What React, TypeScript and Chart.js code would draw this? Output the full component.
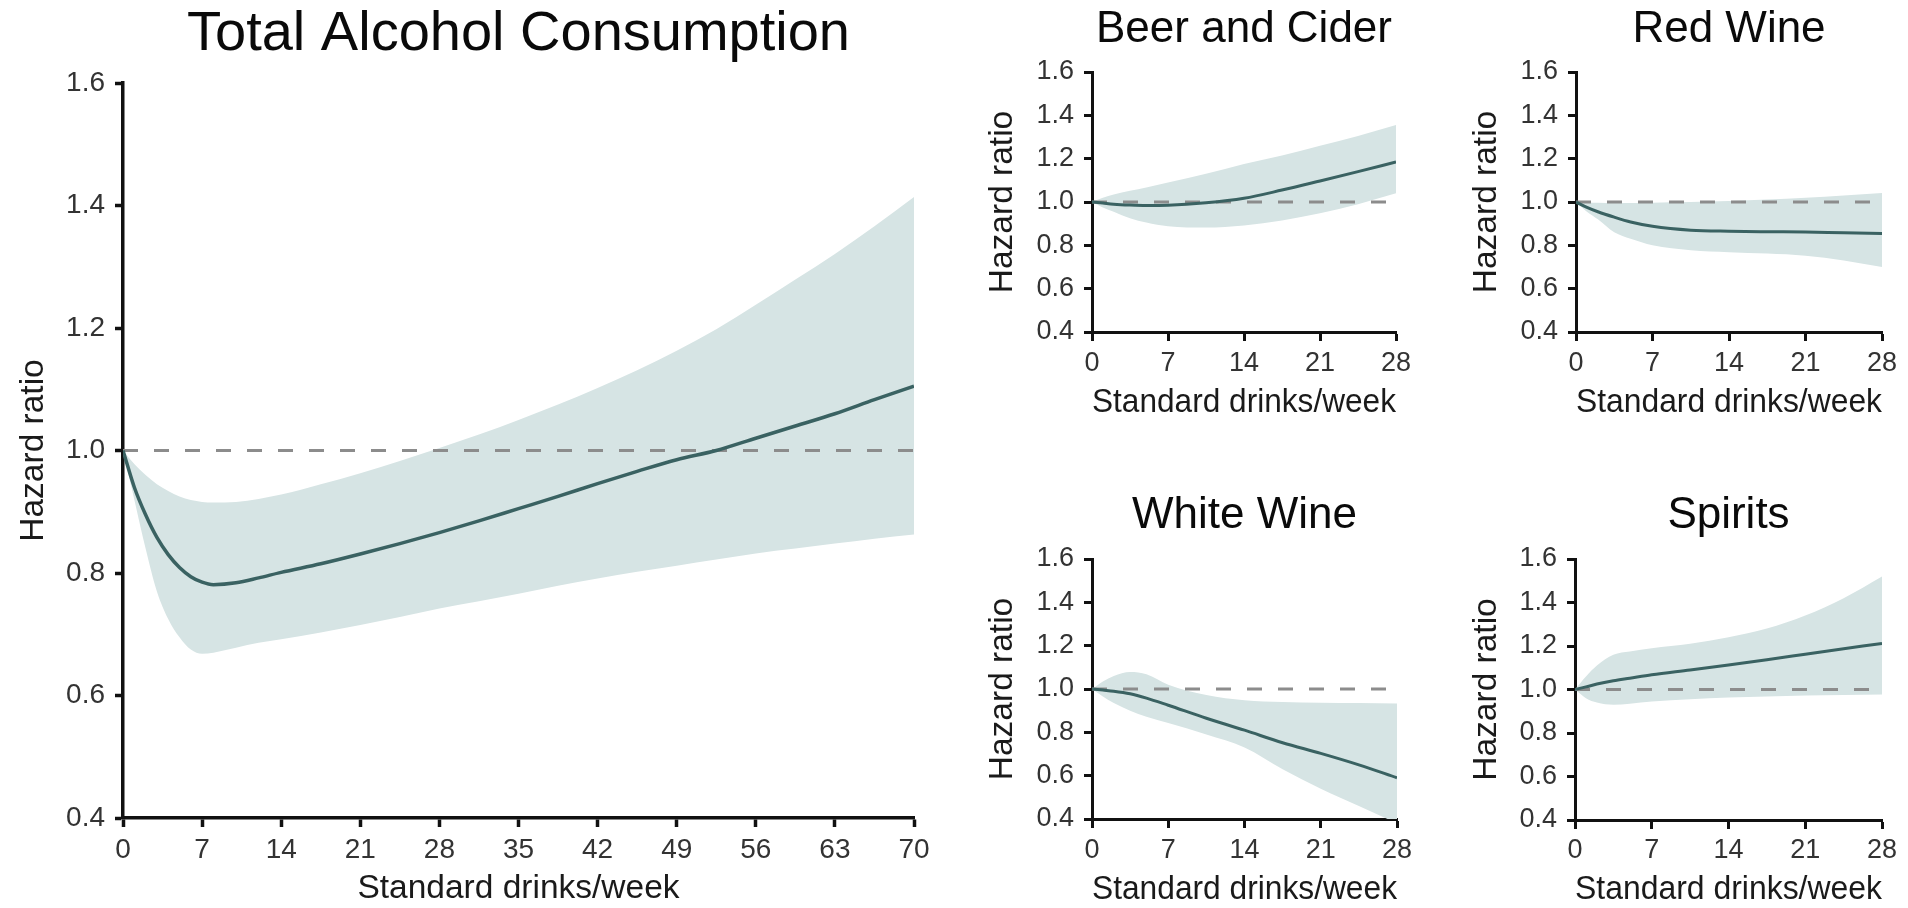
import React, { useEffect, useRef } from "react";
import { Chart, registerables } from "chart.js";

Chart.register(...registerables);

const FONT = "'Liberation Sans', Arial, Helvetica, sans-serif";
const LINE_COLOR = "rgb(58,98,98)";
const BAND_COLOR = "rgb(214,228,228)";
const DASH_COLOR = "rgb(140,140,140)";
const AXIS_COLOR = "#111111";

// ---------- shared ticks ----------
const hrTicks = [0.4, 0.6, 0.8, 1.0, 1.2, 1.4, 1.6];
const totalXTicks = [0, 7, 14, 21, 28, 35, 42, 49, 56, 63, 70];
const smallXTicks = [0, 7, 14, 21, 28];
const referenceHR = [1.0, 1.0];

// ---------- Total Alcohol Consumption ----------
const totalDrinks = [0, 1, 2, 3, 4, 5, 6, 7, 8, 10, 12, 14, 17.5, 21, 24.5, 28, 31.5, 35, 38.5, 42, 45.5, 49, 52.5, 56, 59.5, 63, 66.5, 70];
const totalHR = [1.0, 0.94, 0.895, 0.858, 0.83, 0.809, 0.794, 0.785, 0.781, 0.784, 0.792, 0.801, 0.815, 0.831, 0.848, 0.866, 0.885, 0.905, 0.925, 0.946, 0.966, 0.985, 1.0, 1.02, 1.04, 1.06, 1.083, 1.105];
const totalUpper = [1.0, 0.978, 0.96, 0.945, 0.934, 0.925, 0.919, 0.916, 0.915, 0.916, 0.921, 0.928, 0.945, 0.963, 0.983, 1.004, 1.026, 1.05, 1.075, 1.102, 1.131, 1.163, 1.198, 1.238, 1.279, 1.321, 1.366, 1.414];
const totalLower = [1.0, 0.92, 0.84, 0.77, 0.725, 0.695, 0.675, 0.668, 0.67, 0.678, 0.686, 0.692, 0.703, 0.715, 0.728, 0.742, 0.754, 0.766, 0.779, 0.791, 0.802, 0.812, 0.822, 0.832, 0.84, 0.848, 0.856, 0.863];

// ---------- beverage panels ----------
const smallDrinks = [0, 1, 2, 3.5, 5, 7, 10.5, 14, 17.5, 21, 24.5, 28];

const beerHR = [1.0, 0.995, 0.99, 0.986, 0.984, 0.985, 0.996, 1.017, 1.055, 1.097, 1.14, 1.185];
const beerUpper = [1.0, 1.02, 1.035, 1.052, 1.067, 1.09, 1.13, 1.175, 1.215, 1.26, 1.305, 1.355];
const beerLower = [1.0, 0.975, 0.955, 0.925, 0.905, 0.888, 0.882, 0.892, 0.915, 0.948, 0.99, 1.04];

const redHR = [1.0, 0.975, 0.955, 0.93, 0.908, 0.888, 0.87, 0.865, 0.863, 0.862, 0.858, 0.855];
const redUpper = [1.0, 0.998, 0.996, 0.995, 0.995, 0.997, 1.0, 1.005, 1.012, 1.02, 1.03, 1.042];
const redLower = [1.0, 0.955, 0.92, 0.86, 0.83, 0.8, 0.777, 0.768, 0.762, 0.752, 0.73, 0.7];

const whiteHR = [1.0, 0.995, 0.99, 0.978, 0.958, 0.925, 0.865, 0.81, 0.752, 0.703, 0.65, 0.59];
const whiteUpper = [1.0, 1.035, 1.06, 1.078, 1.068, 1.02, 0.972, 0.948, 0.94, 0.936, 0.935, 0.933];
const whiteLower = [1.0, 0.965, 0.935, 0.9, 0.872, 0.843, 0.79, 0.73, 0.63, 0.54, 0.46, 0.38];

const spiritsHR = [1.0, 1.012, 1.025, 1.04, 1.052, 1.068, 1.09, 1.113, 1.137, 1.162, 1.187, 1.212];
const spiritsUpper = [1.0, 1.06, 1.11, 1.16, 1.175, 1.19, 1.21, 1.24, 1.28, 1.34, 1.42, 1.52];
const spiritsLower = [1.0, 0.96, 0.94, 0.93, 0.935, 0.945, 0.955, 0.963, 0.968, 0.972, 0.975, 0.977];

type PanelProps = {
  left: number;
  top: number;
  width: number;
  height: number;
  title: string;
  titleSize: number;
  titlePadTop: number;
  titlePadBottom: number;
  xs: number[];
  hr: number[];
  upper: number[];
  lower: number[];
  xTicks: number[];
  padRight: number;
  yAxisWidth: number;
  yTitlePad: number;
  xAxisHeight: number;
  xTickPad: number;
  xTitlePadBottom: number;
  tickSize: number;
  axisTitleSize: number;
  lineWidth: number;
  axisWidth: number;
};

function Panel(p: PanelProps) {
  const ref = useRef<HTMLCanvasElement | null>(null);

  useEffect(() => {
    if (!ref.current) return;
    const xMax = p.xTicks[p.xTicks.length - 1];
    const pts = (ys: number[]) => p.xs.map((x, i) => ({ x, y: ys[i] }));
    const chart = new Chart(ref.current, {
      type: "line",
      data: {
        datasets: [
          {
            label: "Hazard ratio",
            data: pts(p.hr),
            borderColor: LINE_COLOR,
            borderWidth: p.lineWidth,
            pointRadius: 0,
            fill: false,
            cubicInterpolationMode: "monotone",
          },
          {
            label: "Reference",
            data: [
              { x: 0, y: referenceHR[0] },
              { x: xMax, y: referenceHR[1] },
            ],
            borderColor: DASH_COLOR,
            borderWidth: 3,
            borderDash: [15, 16],
            pointRadius: 0,
            fill: false,
          },
          {
            label: "Upper CI",
            data: pts(p.upper),
            borderColor: "rgba(0,0,0,0)",
            borderWidth: 0,
            backgroundColor: BAND_COLOR,
            pointRadius: 0,
            fill: "+1",
            cubicInterpolationMode: "monotone",
          },
          {
            label: "Lower CI",
            data: pts(p.lower),
            borderColor: "rgba(0,0,0,0)",
            borderWidth: 0,
            pointRadius: 0,
            fill: false,
            cubicInterpolationMode: "monotone",
          },
        ],
      },
      options: {
        animation: false,
        responsive: false,
        maintainAspectRatio: false,
        events: [],
        layout: { padding: { left: 0, right: p.padRight, top: 0, bottom: 0 } },
        plugins: {
          legend: { display: false },
          tooltip: { enabled: false },
          title: {
            display: true,
            text: p.title,
            color: "#0a0a0a",
            fullSize: false,
            font: { family: FONT, size: p.titleSize, weight: "normal", lineHeight: 1 },
            padding: { top: p.titlePadTop, bottom: p.titlePadBottom },
          },
        },
        scales: {
          x: {
            type: "linear",
            min: 0,
            max: xMax,
            afterFit: (s: any) => {
              s.height = p.xAxisHeight;
            },
            afterBuildTicks: (s: any) => {
              s.ticks = p.xTicks.map((v) => ({ value: v }));
            },
            ticks: {
              autoSkip: false,
              maxRotation: 0,
              padding: p.xTickPad,
              color: "#333333",
              font: { family: FONT, size: p.tickSize },
              callback: (v: any) => String(v),
            },
            grid: {
              display: true,
              drawOnChartArea: false,
              drawTicks: true,
              tickLength: 9,
              tickWidth: p.axisWidth,
              tickColor: AXIS_COLOR,
            },
            border: { display: true, color: AXIS_COLOR, width: p.axisWidth },
            title: {
              display: true,
              text: "Standard drinks/week",
              color: "#1a1a1a",
              font: { family: FONT, size: p.axisTitleSize, lineHeight: 1 },
              padding: { top: 0, bottom: p.xTitlePadBottom },
            },
          },
          y: {
            type: "linear",
            min: hrTicks[0],
            max: hrTicks[hrTicks.length - 1],
            afterFit: (s: any) => {
              s.width = p.yAxisWidth;
            },
            afterBuildTicks: (s: any) => {
              s.ticks = hrTicks.map((v) => ({ value: v }));
            },
            ticks: {
              autoSkip: false,
              padding: 10,
              color: "#333333",
              font: { family: FONT, size: p.tickSize },
              callback: (v: any) => Number(v).toFixed(1),
            },
            grid: {
              display: true,
              drawOnChartArea: false,
              drawTicks: true,
              tickLength: 8,
              tickWidth: p.axisWidth,
              tickColor: AXIS_COLOR,
            },
            border: { display: true, color: AXIS_COLOR, width: p.axisWidth },
            title: {
              display: true,
              text: "Hazard ratio",
              color: "#1a1a1a",
              font: { family: FONT, size: p.axisTitleSize, lineHeight: 1 },
              padding: { top: p.yTitlePad, bottom: 0 },
            },
          },
        },
      } as any,
    });
    return () => chart.destroy();
  }, []);

  return (
    <canvas
      ref={ref}
      width={p.width}
      height={p.height}
      style={{ position: "absolute", left: p.left, top: p.top, width: p.width, height: p.height }}
    />
  );
}

export default function App() {
  return (
    <div
      style={{
        position: "absolute",
        left: 0,
        top: 0,
        width: 1908,
        height: 908,
        background: "#ffffff",
        overflow: "hidden",
      }}
    >
      <Panel
        left={0}
        top={0}
        width={950}
        height={908}
        title="Total Alcohol Consumption"
        titleSize={56}
        titlePadTop={7}
        titlePadBottom={20}
        xs={totalDrinks}
        hr={totalHR}
        upper={totalUpper}
        lower={totalLower}
        xTicks={totalXTicks}
        padRight={36}
        yAxisWidth={123}
        yTitlePad={17}
        xAxisHeight={90}
        xTickPad={6}
        xTitlePadBottom={2}
        tickSize={28}
        axisTitleSize={33.5}
        lineWidth={3.5}
        axisWidth={3.5}
      />
      <Panel
        left={940}
        top={0}
        width={490}
        height={430}
        title="Beer and Cider"
        titleSize={44}
        titlePadTop={8}
        titlePadBottom={20}
        xs={smallDrinks}
        hr={beerHR}
        upper={beerUpper}
        lower={beerLower}
        xTicks={smallXTicks}
        padRight={34}
        yAxisWidth={152}
        yTitlePad={46}
        xAxisHeight={98}
        xTickPad={6}
        xTitlePadBottom={10}
        tickSize={27}
        axisTitleSize={33.5}
        lineWidth={3}
        axisWidth={3}
      />
      <Panel
        left={1430}
        top={0}
        width={478}
        height={430}
        title="Red Wine"
        titleSize={44}
        titlePadTop={8}
        titlePadBottom={20}
        xs={smallDrinks}
        hr={redHR}
        upper={redUpper}
        lower={redLower}
        xTicks={smallXTicks}
        padRight={26}
        yAxisWidth={146}
        yTitlePad={40}
        xAxisHeight={98}
        xTickPad={6}
        xTitlePadBottom={10}
        tickSize={27}
        axisTitleSize={33.5}
        lineWidth={3}
        axisWidth={3}
      />
      <Panel
        left={940}
        top={454}
        width={490}
        height={454}
        title="White Wine"
        titleSize={44}
        titlePadTop={40}
        titlePadBottom={21}
        xs={smallDrinks}
        hr={whiteHR}
        upper={whiteUpper}
        lower={whiteLower}
        xTicks={smallXTicks}
        padRight={33}
        yAxisWidth={152}
        yTitlePad={46}
        xAxisHeight={89}
        xTickPad={6}
        xTitlePadBottom={1}
        tickSize={27}
        axisTitleSize={33.5}
        lineWidth={3}
        axisWidth={3}
      />
      <Panel
        left={1430}
        top={454}
        width={478}
        height={454}
        title="Spirits"
        titleSize={44}
        titlePadTop={40}
        titlePadBottom={21}
        xs={smallDrinks}
        hr={spiritsHR}
        upper={spiritsUpper}
        lower={spiritsLower}
        xTicks={smallXTicks}
        padRight={26}
        yAxisWidth={145}
        yTitlePad={40}
        xAxisHeight={88}
        xTickPad={5}
        xTitlePadBottom={1}
        tickSize={27}
        axisTitleSize={33.5}
        lineWidth={3}
        axisWidth={3}
      />
    </div>
  );
}
